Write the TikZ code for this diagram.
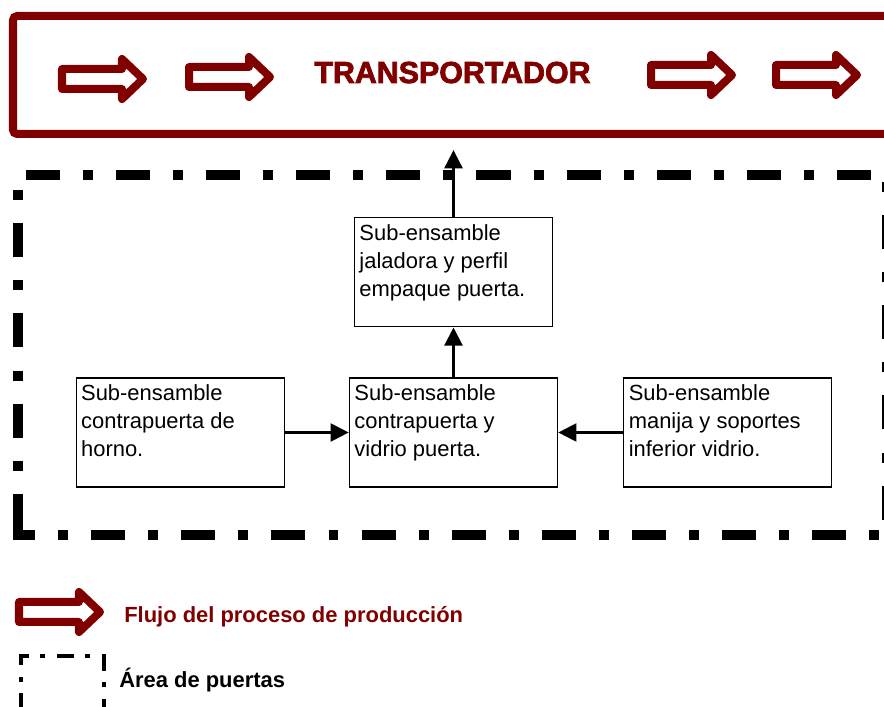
\documentclass[tikz,border=0pt]{standalone}
\usepackage{fontspec}
\setmainfont{Liberation Sans}
\usetikzlibrary{positioning, arrows.meta}
\definecolor{granate}{RGB}{128,0,0}
\tikzstyle{caja} = [rectangle, draw=black, line width=0.9pt, inner xsep=0.125cm, inner ysep=0.175cm, font=\fontsize{15.6}{19.9}\selectfont]
\tikzstyle{flecha} = [line width=2.6pt, ->, >={Triangle[length=13pt,width=12.5pt]}]
\tikzstyle{bloque} = [draw=granate, line width=0.2cm, line join=round]
\tikzstyle{area} = [draw=black, line width=0.25cm, dash pattern=on 24.2pt off 16.4pt on 7.1pt off 16.4pt]
\tikzstyle{areachica} = [draw=black, line width=0.1cm, dash pattern=on 12.1pt off 7.8pt on 3.6pt off 8.5pt]
\tikzstyle{leyenda} = [anchor=base west, inner sep=0pt, font=\fontsize{15.6}{19}\selectfont\bfseries]
\newcommand{\contenido}[2]{\parbox[c][2.375cm][t]{#1}{\raggedright #2}}
\newcommand{\flujo}[2]{\draw[bloque] (#1,#2) ++(0,-10) -- ++(60,0) -- ++(0,-10) -- ++(21,20) -- ++(-21,20) -- ++(0,-10) -- ++(-60,0) -- cycle;}

\begin{document}
\begin{tikzpicture}[x=0.025cm, y=-0.025cm]
        \useasboundingbox (0,0) rectangle (884,707);
        \clip (0,0) rectangle (884,707);
        % transportador
        \draw[draw=granate, line width=0.2cm, rounded corners=3] (905,16) -- (13,16) -- (13,134) -- (905,134);
        \flujo{62}{79}
        \flujo{189}{77}
        \flujo{651}{75}
        \flujo{776}{75}
        \node (titulo) [anchor=base, inner sep=0pt, text=granate, font=\fontsize{21.6}{26}\selectfont\bfseries\addfontfeature{FakeBold=2.5}] at (452.5,83) {TRANSPORTADOR};
        \coordinate (transp) at (455,150);
        % area de puertas
        \draw[area] (18,518) -- (18,535) -- (887,535) -- (887,175) -- (18,175) -- cycle;
        \node (vidrio) [caja] at (453.5,432.5) {\contenido{4.95cm}{Sub-ensamble\\contrapuerta y\\vidrio puerta.}};
        \node (horno) [caja, left=1.6cm of vidrio] {\contenido{4.95cm}{Sub-ensamble\\contrapuerta de\\horno.}};
        \node (manija) [caja, right=1.625cm of vidrio] {\contenido{4.95cm}{Sub-ensamble\\manija y soportes\\inferior vidrio.}};
        \node (jaladora) [caja, above=1.25cm of vidrio] {\contenido{4.7cm}{Sub-ensamble\\jaladora y perfil\\empaque puerta.}};
        \draw[flecha] (horno) -- (vidrio);
        \draw[flecha] (manija) -- (vidrio);
        \draw[flecha] (vidrio) -- (jaladora);
        \draw[flecha] (jaladora) -- (jaladora |- transp);
        % leyenda
        \flujo{19}{612}
        \node (leyflujo) [leyenda, text=granate] at (124,623) {Flujo del proceso de producción};
        \draw[areachica] (21,710) -- (21,656) -- (104,656) -- (104,710);
        \node (leyarea) [leyenda] at (119,688) {Área de puertas};
\end{tikzpicture}
\end{document}
